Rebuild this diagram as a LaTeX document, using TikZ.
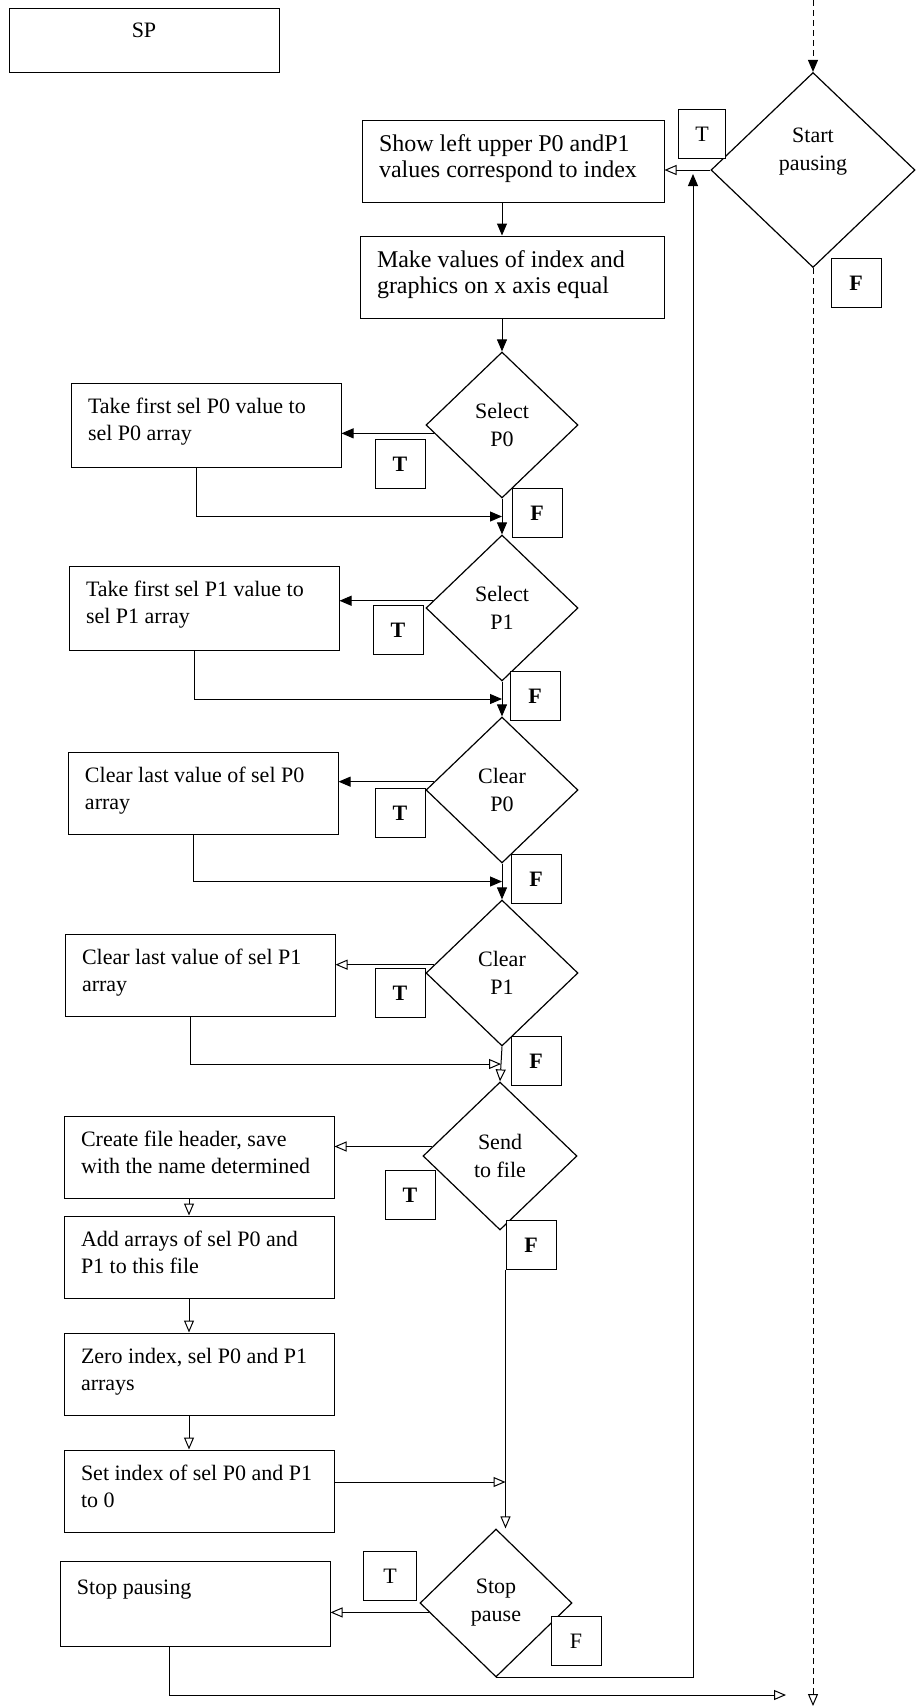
\documentclass[tikz,border=0pt]{standalone}
\usepackage{fontspec}
\setmainfont{Liberation Serif}
\usetikzlibrary{arrows.meta,positioning,shapes.geometric,calc}

% text of a process box: top aligned, left padded
\newcommand{\proctext}[4][7.5pt]{\parbox[c][#3][t]{#2}{\raggedright\leftskip=8.5pt\vspace*{#1}#4}}

\begin{document}
\begin{tikzpicture}[x=0.5pt,y=-0.5pt,
  proc/.style={draw,line width=0.5pt,inner sep=0pt,font=\fontsize{11}{13.5}\selectfont},
  decision/.style={draw,diamond,aspect=1,line width=0.6pt,inner sep=0pt,align=center,
    minimum width=76pt,minimum height=73pt,font=\fontsize{11}{14}\selectfont},
  tf/.style={draw,fill=white,line width=0.5pt,inner sep=0pt,minimum width=25pt,minimum height=24.5pt,
    font=\fontsize{11}{13}\selectfont\bfseries},
  tfr/.style={tf,font=\fontsize{11}{13}\selectfont},
  link/.style={line width=0.5pt},
  arr/.style={link,-{Triangle[length=6pt,width=5pt]}},
  oarr/.style={link,-{Triangle[open,length=6pt,width=5pt]}},
  dashline/.style={dash pattern=on 3pt off 2pt},
]
\useasboundingbox (0,0) rectangle (916,1708);

% process boxes
\node[proc] (sp) at (144,40) {\parbox[c][32pt][t]{135pt}{\centering\vspace*{7.5pt}SP}};
\node[proc,font=\fontsize{12}{13}\selectfont] (show) at (513,161)
  {\proctext{151pt}{41pt}{Show left upper P0 andP1\\values correspond to index}};
\node[proc,font=\fontsize{12}{13}\selectfont] (make) at (512,277)
  {\proctext{152pt}{41pt}{Make values of index and\\graphics on x axis equal}};
\node[proc] (takezero) at (206,425) {\proctext{135pt}{42pt}{Take first sel P0 value to\\sel P0 array}};
\node[proc] (takeone) at (204,608) {\proctext{135pt}{42pt}{Take first sel P1 value to\\sel P1 array}};
\node[proc] (clearzero) at (203,793) {\proctext{135pt}{41pt}{Clear last value of sel P0\\array}};
\node[proc] (clearone) at (200,975) {\proctext{135pt}{41pt}{Clear last value of sel P1\\array}};
\node[proc] (create) at (199,1157) {\proctext{135pt}{41pt}{Create file header, save\\with the name determined}};
\node[proc,below=8.5pt of create] (add) {\proctext{135pt}{41pt}{Add arrays of sel P0 and\\P1 to this file}};
\node[proc,below=17pt of add] (zero) {\proctext{135pt}{41pt}{Zero index, sel P0 and P1\\arrays}};
\node[proc,below=17pt of zero] (setidx) {\proctext{135pt}{41pt}{Set index of sel P0 and P1\\to 0}};
\node[proc] (stopping) at (195,1604) {\proctext[9pt]{135pt}{42.5pt}{Stop pausing}};

% decisions
\node[decision,minimum width=102pt,minimum height=97.5pt] (start) at (813,170) {};
\node[font=\fontsize{11}{14}\selectfont,align=center] (starttext) at (813,152) {Start\\pausing};
\node[decision] (selzero) at (502,425) {Select\\P0};
\node[decision] (selone) at (502,608) {Select\\P1};
\node[decision] (clrzero) at (502,790) {Clear\\P0};
\node[decision] (clrone) at (502,973) {Clear\\P1};
\node[decision,minimum width=77pt,minimum height=74pt] (send) at (500,1156) {Send\\to file};
\node[decision,minimum height=74pt] (stop) at (496,1603) {Stop\\pause};

% T / F marks
\node[tfr,minimum width=23.5pt] (startt) at (702,134) {T};
\node[tf] (startf) at (856,283) {F};
\node[tf] (selzerot) at (400,464) {T};
\node[tf] (selzerof) at (537,513) {F};
\node[tf] (selonet) at (398,630) {T};
\node[tf] (selonef) at (535,696) {F};
\node[tf] (clrzerot) at (400,813) {T};
\node[tf] (clrzerof) at (536,879) {F};
\node[tf] (clronet) at (400,993) {T};
\node[tf] (clronef) at (536,1061) {F};
\node[tf] (sendt) at (410,1195) {T};
\node[tf] (sendf) at (531,1245) {F};
\node[tfr,minimum width=26.5pt] (stopt) at (390,1576) {T};
\node[tfr] (stopf) at (576,1641) {F};

% loose ends
\coordinate (topin) at (813,0);
\coordinate (backin) at (693,174);
\coordinate (endin) at (786,1695);
\coordinate (endout) at (813,1706);
\coordinate (jzero) at ($(selzero.south)!.5!(selone.north)$);
\coordinate (jone) at ($(selone.south)!.5!(clrzero.north)$);
\coordinate (jtwo) at ($(clrzero.south)!.5!(clrone.north)$);
\coordinate (jthree) at ($(clrone.south)!.5!(send.north)$);

% connectors
\draw[arr,dashline] (topin) -- (start.north);
\draw[oarr] (start.west) -- (start.west -| show.east);
\draw[arr] (stop.south) -| (backin);
\draw[arr] (show.south -| selzero) -- (make.north -| selzero);
\draw[arr] (make.south -| selzero) -- (selzero.north);

\draw[arr] (selzero.187) -- (selzero.187 -| takezero.east);
\draw[arr] ([xshift=-5pt]takezero.south) |- (jzero);
\draw[arr] (selzero.south) -- (selone.north);

\draw[arr] (selone.174) -- (selone.174 -| takeone.east);
\draw[arr] ([xshift=-5pt]takeone.south) |- (jone);
\draw[arr] (selone.south) -- (clrzero.north);

\draw[arr] (clrzero.173) -- (clrzero.173 -| clearzero.east);
\draw[arr] ([xshift=-5pt]clearzero.south) |- (jtwo);
\draw[arr] (clrzero.south) -- (clrone.north);

\draw[oarr] (clrone.173) -- (clrone.173 -| clearone.east);
\draw[oarr] ([xshift=-5pt]clearone.south) |- (jthree);
\draw[oarr] (clrone.south) -- (send.north);

\draw[oarr] (send.172) -- (send.172 -| create.east);
\draw[oarr] ([xshift=-5pt]create.south) -- ([xshift=-5pt]add.north);
\draw[oarr] ([xshift=-5pt]add.south) -- ([xshift=-5pt]zero.north);
\draw[oarr] ([xshift=-5pt]zero.south) -- ([xshift=-5pt]setidx.north);
\draw[oarr] (sendf.south west) -- (sendf.south west |- stop.north);
\draw[oarr] ([yshift=4.5pt]setidx.east) -- ([yshift=4.5pt]setidx.east -| sendf.south west);

\draw[oarr] (stop.188) -- (stop.188 -| stopping.east);
\draw[oarr] ([xshift=-13pt]stopping.south) |- (endin);
\draw[oarr,dashline] (start.south) -- (endout);
\end{tikzpicture}
\end{document}
